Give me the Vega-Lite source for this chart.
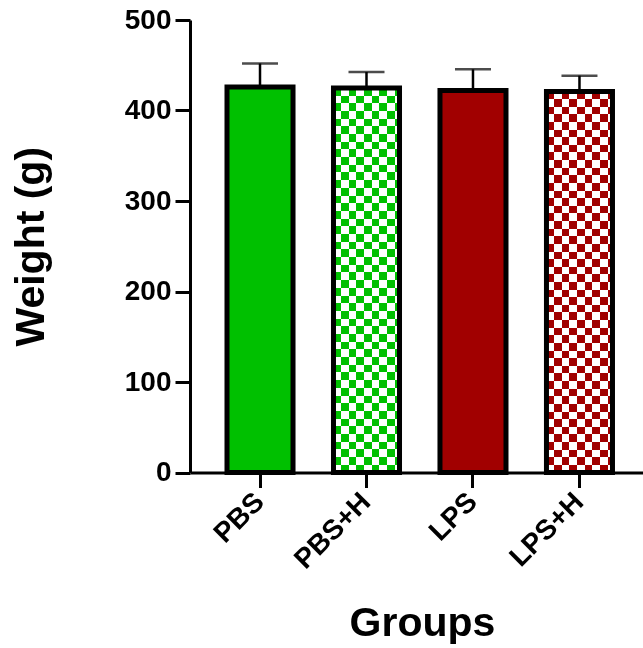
{
  "$schema": "https://vega.github.io/schema/vega-lite/v6.json",
  "width": 453,
  "height": 452.5,
  "autosize": "none",
  "padding": {"left": 190, "top": 20, "right": 0, "bottom": 175.5},
  "background": "white",
  "data": {
    "values": [
      {"group": "PBS", "base": "PBS", "withH": false, "mean": 426, "upper": 452},
      {"group": "PBS+H", "base": "PBS", "withH": true, "mean": 425, "upper": 442.5},
      {"group": "LPS", "base": "LPS", "withH": false, "mean": 422, "upper": 445.5},
      {"group": "LPS+H", "base": "LPS", "withH": true, "mean": 421, "upper": 438.5}
    ]
  },
  "config": {
    "view": {"stroke": null},
    "axis": {
      "labelFont": "Liberation Sans",
      "labelFontWeight": "bold",
      "labelFontSize": 28,
      "labelColor": "black",
      "titleFont": "Liberation Sans",
      "titleFontWeight": "bold",
      "titleFontSize": 41,
      "titleColor": "black",
      "domainColor": "black",
      "domainWidth": 3,
      "tickColor": "black",
      "tickWidth": 3,
      "tickSize": 15,
      "grid": false
    }
  },
  "encoding": {
    "x": {
      "field": "group",
      "type": "nominal",
      "sort": ["PBS", "PBS+H", "LPS", "LPS+H"],
      "scale": {"domain": ["PBS", "PBS+H", "LPS", "LPS+H"], "paddingInner": 0.38, "paddingOuter": 0.317, "align": 0.548},
      "axis": {"title": "Groups", "titleX": 232, "labelAngle": -45, "labelAlign": "right", "labelBaseline": "middle", "labelPadding": 10, "titlePadding": 30}
    }
  },
  "layer": [
    {
      "transform": [{"filter": "!datum.withH"}],
      "mark": {"type": "bar"},
      "encoding": {
        "y": {
          "field": "mean",
          "type": "quantitative",
          "scale": {"domain": [0, 500], "nice": false},
          "axis": {"title": "Weight (g)", "values": [0, 100, 200, 300, 400, 500], "labelPadding": 4, "titlePadding": 72}
        },
        "color": {
          "field": "base",
          "type": "nominal",
          "scale": {"domain": ["PBS", "LPS"], "range": ["#00c000", "#a10000"]},
          "legend": null
        }
      }
    },
    {
      "transform": [{"filter": "datum.withH"}],
      "mark": {
        "type": "bar",
        "fill": {
          "gradient": "linear", "x1": 0, "y1": 0, "x2": 1, "y2": 0,
          "stops": [
            {"offset": 0, "color": "black"}, {"offset": 0.116, "color": "black"},
            {"offset": 0.116, "color": "white"}, {"offset": 0.232, "color": "white"},
            {"offset": 0.232, "color": "black"}, {"offset": 0.348, "color": "black"},
            {"offset": 0.348, "color": "white"}, {"offset": 0.464, "color": "white"},
            {"offset": 0.464, "color": "black"}, {"offset": 0.58, "color": "black"},
            {"offset": 0.58, "color": "white"}, {"offset": 0.696, "color": "white"},
            {"offset": 0.696, "color": "black"}, {"offset": 0.812, "color": "black"},
            {"offset": 0.812, "color": "white"}, {"offset": 0.928, "color": "white"},
            {"offset": 0.928, "color": "black"}, {"offset": 1, "color": "black"}
          ]
        }
      },
      "encoding": {"y": {"field": "mean", "type": "quantitative"}}
    },
    {
      "transform": [{"filter": "datum.withH"}],
      "mark": {
        "type": "bar",
        "blend": "difference",
        "fill": {
          "gradient": "linear", "x1": 0, "y1": 0, "x2": 0, "y2": 1,
          "stops": [
            {"offset": 0, "color": "rgba(255,255,255,0)"}, {"offset": 0.02, "color": "rgba(255,255,255,0)"},
            {"offset": 0.02, "color": "white"}, {"offset": 0.04, "color": "white"},
            {"offset": 0.04, "color": "rgba(255,255,255,0)"}, {"offset": 0.06, "color": "rgba(255,255,255,0)"},
            {"offset": 0.06, "color": "white"}, {"offset": 0.08, "color": "white"},
            {"offset": 0.08, "color": "rgba(255,255,255,0)"}, {"offset": 0.1, "color": "rgba(255,255,255,0)"},
            {"offset": 0.1, "color": "white"}, {"offset": 0.12, "color": "white"},
            {"offset": 0.12, "color": "rgba(255,255,255,0)"}, {"offset": 0.14, "color": "rgba(255,255,255,0)"},
            {"offset": 0.14, "color": "white"}, {"offset": 0.16, "color": "white"},
            {"offset": 0.16, "color": "rgba(255,255,255,0)"}, {"offset": 0.18, "color": "rgba(255,255,255,0)"},
            {"offset": 0.18, "color": "white"}, {"offset": 0.2, "color": "white"},
            {"offset": 0.2, "color": "rgba(255,255,255,0)"}, {"offset": 0.22, "color": "rgba(255,255,255,0)"},
            {"offset": 0.22, "color": "white"}, {"offset": 0.24, "color": "white"},
            {"offset": 0.24, "color": "rgba(255,255,255,0)"}, {"offset": 0.26, "color": "rgba(255,255,255,0)"},
            {"offset": 0.26, "color": "white"}, {"offset": 0.28, "color": "white"},
            {"offset": 0.28, "color": "rgba(255,255,255,0)"}, {"offset": 0.3, "color": "rgba(255,255,255,0)"},
            {"offset": 0.3, "color": "white"}, {"offset": 0.32, "color": "white"},
            {"offset": 0.32, "color": "rgba(255,255,255,0)"}, {"offset": 0.34, "color": "rgba(255,255,255,0)"},
            {"offset": 0.34, "color": "white"}, {"offset": 0.36, "color": "white"},
            {"offset": 0.36, "color": "rgba(255,255,255,0)"}, {"offset": 0.38, "color": "rgba(255,255,255,0)"},
            {"offset": 0.38, "color": "white"}, {"offset": 0.4, "color": "white"},
            {"offset": 0.4, "color": "rgba(255,255,255,0)"}, {"offset": 0.42, "color": "rgba(255,255,255,0)"},
            {"offset": 0.42, "color": "white"}, {"offset": 0.44, "color": "white"},
            {"offset": 0.44, "color": "rgba(255,255,255,0)"}, {"offset": 0.46, "color": "rgba(255,255,255,0)"},
            {"offset": 0.46, "color": "white"}, {"offset": 0.48, "color": "white"},
            {"offset": 0.48, "color": "rgba(255,255,255,0)"}, {"offset": 0.5, "color": "rgba(255,255,255,0)"},
            {"offset": 0.5, "color": "white"}, {"offset": 0.52, "color": "white"},
            {"offset": 0.52, "color": "rgba(255,255,255,0)"}, {"offset": 0.54, "color": "rgba(255,255,255,0)"},
            {"offset": 0.54, "color": "white"}, {"offset": 0.56, "color": "white"},
            {"offset": 0.56, "color": "rgba(255,255,255,0)"}, {"offset": 0.58, "color": "rgba(255,255,255,0)"},
            {"offset": 0.58, "color": "white"}, {"offset": 0.6, "color": "white"},
            {"offset": 0.6, "color": "rgba(255,255,255,0)"}, {"offset": 0.62, "color": "rgba(255,255,255,0)"},
            {"offset": 0.62, "color": "white"}, {"offset": 0.64, "color": "white"},
            {"offset": 0.64, "color": "rgba(255,255,255,0)"}, {"offset": 0.66, "color": "rgba(255,255,255,0)"},
            {"offset": 0.66, "color": "white"}, {"offset": 0.68, "color": "white"},
            {"offset": 0.68, "color": "rgba(255,255,255,0)"}, {"offset": 0.7, "color": "rgba(255,255,255,0)"},
            {"offset": 0.7, "color": "white"}, {"offset": 0.72, "color": "white"},
            {"offset": 0.72, "color": "rgba(255,255,255,0)"}, {"offset": 0.74, "color": "rgba(255,255,255,0)"},
            {"offset": 0.74, "color": "white"}, {"offset": 0.76, "color": "white"},
            {"offset": 0.76, "color": "rgba(255,255,255,0)"}, {"offset": 0.78, "color": "rgba(255,255,255,0)"},
            {"offset": 0.78, "color": "white"}, {"offset": 0.8, "color": "white"},
            {"offset": 0.8, "color": "rgba(255,255,255,0)"}, {"offset": 0.82, "color": "rgba(255,255,255,0)"},
            {"offset": 0.82, "color": "white"}, {"offset": 0.84, "color": "white"},
            {"offset": 0.84, "color": "rgba(255,255,255,0)"}, {"offset": 0.86, "color": "rgba(255,255,255,0)"},
            {"offset": 0.86, "color": "white"}, {"offset": 0.88, "color": "white"},
            {"offset": 0.88, "color": "rgba(255,255,255,0)"}, {"offset": 0.9, "color": "rgba(255,255,255,0)"},
            {"offset": 0.9, "color": "white"}, {"offset": 0.92, "color": "white"},
            {"offset": 0.92, "color": "rgba(255,255,255,0)"}, {"offset": 0.94, "color": "rgba(255,255,255,0)"},
            {"offset": 0.94, "color": "white"}, {"offset": 0.96, "color": "white"},
            {"offset": 0.96, "color": "rgba(255,255,255,0)"}, {"offset": 0.98, "color": "rgba(255,255,255,0)"},
            {"offset": 0.98, "color": "white"}, {"offset": 1, "color": "white"}
          ]
        }
      },
      "encoding": {"y": {"field": "mean", "type": "quantitative"}}
    },
    {
      "transform": [{"filter": "datum.withH"}],
      "mark": {"type": "bar", "blend": "screen"},
      "encoding": {
        "y": {"field": "mean", "type": "quantitative"},
        "color": {"field": "base", "type": "nominal", "legend": null}
      }
    },
    {
      "mark": {"type": "bar", "filled": false, "stroke": "black", "strokeWidth": 5, "strokeJoin": "miter"},
      "encoding": {"y": {"field": "mean", "type": "quantitative"}}
    },
    {
      "mark": {"type": "rule", "color": "black", "strokeWidth": 2.5},
      "encoding": {
        "y": {"field": "mean", "type": "quantitative"},
        "y2": {"field": "upper"}
      }
    },
    {
      "mark": {"type": "tick", "color": "black", "size": 36, "thickness": 2.5, "orient": "horizontal"},
      "encoding": {"y": {"field": "upper", "type": "quantitative"}}
    }
  ]
}
